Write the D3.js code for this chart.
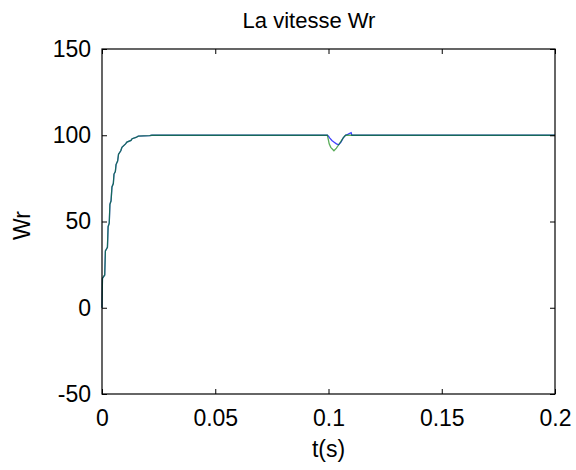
<!DOCTYPE html>
<html>
<head>
<meta charset="utf-8">
<script src="https://cdn.jsdelivr.net/npm/d3@7"></script>
<style>
  body { margin: 0; background: #fff; }
  svg { display: block; font-family: Arial, "Liberation Sans", sans-serif; }
</style>
</head>
<body>
<svg id="chart" width="576" height="470"></svg>
<script>
// ---- data ----
const tRise  = [0, 0.0002, 0.0012, 0.0015, 0.0024, 0.0027, 0.0032, 0.0035, 0.0040, 0.0044, 0.0050, 0.0053, 0.0059, 0.0062, 0.0069, 0.0073, 0.0083, 0.0088, 0.0104, 0.0110, 0.0128, 0.0133, 0.0150, 0.0160, 0.0210, 0.0220, 0.0995];
const wrRise = [0, 17, 19, 33, 35, 47, 49, 60, 62, 70, 72, 77.5, 79, 83, 85, 89, 91, 93, 95, 96, 97, 98, 98.7, 99.5, 99.8, 100, 100];

const tDipBlue  = [0.1000, 0.1005, 0.1015, 0.1025, 0.1035, 0.1045, 0.1055, 0.1065, 0.1075, 0.1085, 0.1100, 0.1103, 0.2000];
const wrDipBlue = [99.5, 98.5, 97, 96, 95, 94.5, 96, 98.5, 100, 100.5, 101.5, 100, 100];

const tDipGreen  = [0.1000, 0.1003, 0.1010, 0.1024, 0.1035, 0.1045, 0.1055, 0.1065, 0.1075, 0.2000];
const wrDipGreen = [97, 95, 93, 91, 92.5, 94.5, 96.5, 98.5, 100, 100];

const xTicks = [0, 0.05, 0.1, 0.15, 0.2];
const xTickLabels = ["0", "0.05", "0.1", "0.15", "0.2"];
const yTicks = [-50, 0, 50, 100, 150];
const yTickLabels = ["-50", "0", "50", "100", "150"];

const titleText = "La vitesse Wr";
const xLabelText = "t(s)";
const yLabelText = "Wr";

// ---- layout ----
const svg = d3.select("#chart");
const L = 102, R = 555, T = 49, B = 394;
const x = d3.scaleLinear().domain([0, 0.2]).range([L, R]);
const y = d3.scaleLinear().domain([-50, 150]).range([B, T]);
const fs = 23;
const tickLen = 5;

const blue = tRise.map((t, i) => [t, wrRise[i]]).concat(tDipBlue.map((t, i) => [t, wrDipBlue[i]]));
const green = tRise.map((t, i) => [t, wrRise[i]]).concat(tDipGreen.map((t, i) => [t, wrDipGreen[i]]));

const line = d3.line().x(d => x(d[0])).y(d => y(d[1]));

svg.append("path").datum(blue).attr("d", line)
  .attr("fill", "none").attr("stroke", "#0000ff").attr("stroke-width", 1.3).attr("stroke-opacity", 0.75);
svg.append("path").datum(green).attr("d", line)
  .attr("fill", "none").attr("stroke", "#008000").attr("stroke-width", 1.3).attr("stroke-opacity", 0.65);

// axes (inward ticks on all sides)
const gBottom = svg.append("g").attr("transform", `translate(0,${B})`)
  .call(d3.axisBottom(x).tickValues(xTicks).tickSize(-tickLen).tickPadding(16)
    .tickFormat((d, i) => xTickLabels[i]));
const gTop = svg.append("g").attr("transform", `translate(0,${T})`)
  .call(d3.axisTop(x).tickValues(xTicks).tickSize(-tickLen).tickFormat(""));
const gLeft = svg.append("g").attr("transform", `translate(${L},0)`)
  .call(d3.axisLeft(y).tickValues(yTicks).tickSize(-tickLen).tickPadding(11)
    .tickFormat((d, i) => yTickLabels[i]));
const gRight = svg.append("g").attr("transform", `translate(${R},0)`)
  .call(d3.axisRight(y).tickValues(yTicks).tickSize(-tickLen).tickFormat(""));

[gBottom, gTop, gLeft, gRight].forEach(g => {
  g.select(".domain").remove();
  g.selectAll(".tick line").attr("stroke", "#000").attr("stroke-width", 1);
  g.selectAll("text").attr("font-size", fs).attr("fill", "#000")
    .attr("font-family", "Arial, 'Liberation Sans', sans-serif");
});

// frame
svg.append("rect").attr("x", L).attr("y", T).attr("width", R - L).attr("height", B - T)
  .attr("fill", "none").attr("stroke", "#000").attr("stroke-width", 1.2);

// title & labels
svg.append("text").attr("x", 309).attr("y", 28).attr("text-anchor", "middle")
  .attr("font-size", 22).text(titleText);
svg.append("text").attr("x", (L + R) / 2).attr("y", 457).attr("text-anchor", "middle")
  .attr("font-size", fs).text(xLabelText);
svg.append("text").attr("transform", `translate(30,${(T + B) / 2 + 4}) rotate(-90)`)
  .attr("text-anchor", "middle").attr("font-size", fs).text(yLabelText);
</script>
</body>
</html>
